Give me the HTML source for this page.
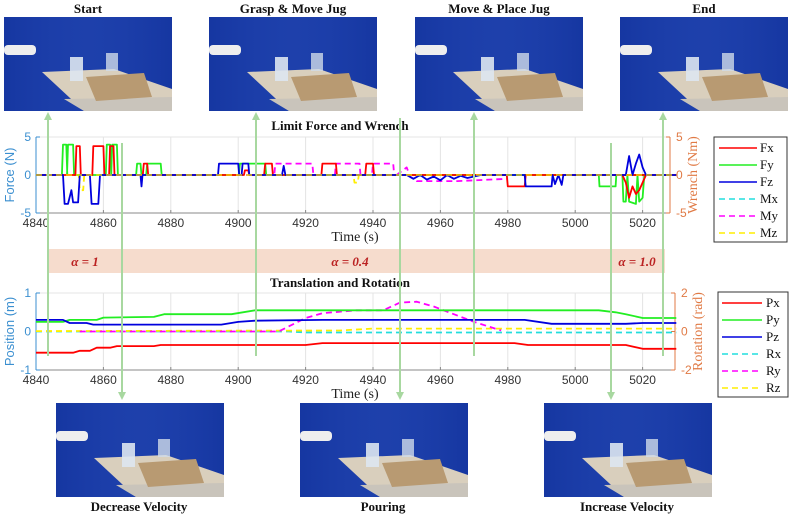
<!DOCTYPE html>
<html><head><meta charset="utf-8"><style>
html,body{margin:0;padding:0;background:#fff;}
svg{display:block;}
.t{font-family:"Liberation Serif",serif;font-weight:bold;font-size:13px;fill:#111;}
.tk{font-family:"Liberation Sans",sans-serif;font-size:12px;fill:#333;}
.lg{font-family:"Liberation Serif",serif;font-size:13px;fill:#111;}
.al{font-family:"Liberation Serif",serif;font-weight:bold;font-style:italic;font-size:13px;fill:#b22;}
</style></head><body>
<svg id="s" width="792" height="517" viewBox="0 0 792 517" xmlns="http://www.w3.org/2000/svg">
<defs>
<g id="photo">
<rect x="0" y="0" width="168" height="94" fill="#1c3ea8"/>
<rect x="0" y="0" width="168" height="94" fill="url(#pg)"/>
<polygon points="38,55 110,52 168,72 168,94 80,94" fill="#d9cfbd"/>
<polygon points="80,94 168,94 168,80 60,82" fill="#c9c4bb"/>
<polygon points="82,60 140,56 148,80 92,84" fill="#b89a72"/>
<rect x="66" y="40" width="13" height="24" fill="#dde6f0" opacity="0.9"/>
<rect x="102" y="36" width="12" height="18" fill="#cfdbe8" opacity="0.8"/>
<rect x="0" y="28" width="32" height="10" rx="4" fill="#eee"/>
</g>
<linearGradient id="pg" x1="0" x2="1"><stop offset="0" stop-color="#0f2f9a" stop-opacity="0.5"/><stop offset="0.5" stop-color="#2448b8" stop-opacity="0.2"/><stop offset="1" stop-color="#0f2f9a" stop-opacity="0.5"/></linearGradient>
</defs>

<text class="t" x="88" y="13" text-anchor="middle">Start</text>
<text class="t" x="293" y="13" text-anchor="middle">Grasp &amp; Move Jug</text>
<text class="t" x="499" y="13" text-anchor="middle">Move &amp; Place Jug</text>
<text class="t" x="704" y="13" text-anchor="middle">End</text>
<use href="#photo" x="4" y="17"/>
<use href="#photo" x="209" y="17"/>
<use href="#photo" x="415" y="17"/>
<use href="#photo" x="620" y="17"/>
<use href="#photo" x="56" y="403"/>
<use href="#photo" x="300" y="403"/>
<use href="#photo" x="544" y="403"/>
<text class="t" x="139" y="511" text-anchor="middle">Decrease Velocity</text>
<text class="t" x="383" y="511" text-anchor="middle">Pouring</text>
<text class="t" x="627" y="511" text-anchor="middle">Increase Velocity</text>

<rect x="48" y="249" width="617" height="24" fill="#f6dccd"/>
<g stroke="#b5452f" stroke-width="1.5">
<line x1="48" y1="236" x2="48" y2="288"/><line x1="122" y1="236" x2="122" y2="288"/>
<line x1="611" y1="236" x2="611" y2="288"/><line x1="663" y1="236" x2="663" y2="288"/>
</g>
<text class="al" x="85" y="266" text-anchor="middle">α = 1</text>
<text class="al" x="350" y="266" text-anchor="middle">α = 0.4</text>
<text class="al" x="637" y="266" text-anchor="middle">α = 1.0</text>

<text class="t" x="340" y="130" text-anchor="middle">Limit Force and Wrench</text>
<text class="t" x="340" y="287" text-anchor="middle">Translation and Rotation</text>

<g id="plots"></g>

<g stroke="#a8d8a0" stroke-width="2" fill="none">
<line x1="48" y1="118" x2="48" y2="356"/><line x1="256" y1="118" x2="256" y2="356"/>
<line x1="474" y1="118" x2="474" y2="356"/><line x1="663" y1="118" x2="663" y2="356"/>
<line x1="122" y1="143" x2="122" y2="394"/><line x1="400" y1="118" x2="400" y2="394"/>
<line x1="611" y1="143" x2="611" y2="394"/>
</g>
<g fill="#a8d8a0">
<polygon points="48,112 44,120 52,120"/><polygon points="256,112 252,120 260,120"/>
<polygon points="474,112 470,120 478,120"/><polygon points="663,112 659,120 667,120"/>
<polygon points="122,400 118,392 126,392"/><polygon points="400,400 396,392 404,392"/>
<polygon points="611,400 607,392 615,392"/>
</g>

<rect x="714" y="137" width="73" height="105" fill="#fff" stroke="#333"/>
<rect x="718" y="292" width="70" height="105" fill="#fff" stroke="#333"/>
<g id="leg"></g>
</svg>
<script>
var NS="http://www.w3.org/2000/svg";
function el(p,t,a,txt){var e=document.createElementNS(NS,t);for(var k in a)e.setAttribute(k,a[k]);if(txt!=null)e.textContent=txt;p.appendChild(e);return e;}
var P=document.getElementById('plots'),L=document.getElementById('leg');
function X(t){return 36+(t-4840)*3.37;}
var C={r:'#ff0000',g:'#22ee22',b:'#0000dd',c:'#22dddd',m:'#ff00ff',y:'#ffee00'};
function axes(y0,y1,ylab,yt,rlab,rt,xr){
 for(var t=4860;t<=5020;t+=20)el(P,'line',{x1:X(t),x2:X(t),y1:y0,y2:y1,stroke:'#e4e4e4'});
 el(P,'line',{x1:36,x2:xr,y1:y0,y2:y0,stroke:'#e4e4e4'});
 el(P,'line',{x1:36,x2:xr,y1:y1,y2:y1,stroke:'#888'});
 for(var t=4840;t<=5020;t+=20){el(P,'line',{x1:X(t),x2:X(t),y1:y1,y2:y1-3,stroke:'#888'});el(P,'text',{x:X(t),y:y1+14,'text-anchor':'middle','class':'tk'},String(t));}
 el(P,'line',{x1:36,x2:36,y1:y0,y2:y1,stroke:'#3b8fd0'});
 el(P,'line',{x1:xr,x2:xr,y1:y0,y2:y1,stroke:'#e07a45'});
 var ym=(y0+y1)/2;
 [[y0,yt[0]],[ym,yt[1]],[y1,yt[2]]].forEach(function(a){el(P,'line',{x1:36,x2:40,y1:a[0],y2:a[0],stroke:'#3b8fd0'});el(P,'text',{x:31,y:a[0]+4,'text-anchor':'end','class':'tk',style:'fill:#3b8fd0'},a[1]);});
 [[y0,rt[0]],[ym,rt[1]],[y1,rt[2]]].forEach(function(a){el(P,'line',{x1:xr,x2:xr-4,y1:a[0],y2:a[0],stroke:'#e07a45'});el(P,'text',{x:xr+6,y:a[0]+4,'class':'tk',style:'fill:#e07a45'},a[1]);});
 el(P,'text',{x:14,y:ym,'text-anchor':'middle',transform:'rotate(-90 14 '+ym+')',style:'font-family:Liberation Sans,sans-serif;font-size:13px;fill:#3b8fd0'},ylab);
 el(P,'text',{x:xr+27,y:ym,'text-anchor':'middle',transform:'rotate(-90 '+(xr+27)+' '+ym+')',style:'font-family:Liberation Serif,serif;font-size:14px;fill:#e07a45'},rlab);
 el(P,'text',{x:355,y:y1+28,'text-anchor':'middle',style:'font-family:Liberation Serif,serif;font-size:14px;fill:#222'},'Time (s)');
}
axes(137,213,'Force (N)',['5','0','-5'],'Wrench (Nm)',['5','0','-5'],670);
axes(293,370,'Position (m)',['1','0','-1'],'Rotation (rad)',['2','0','-2'],675);
function FY(v){return 175-v*7.6;}
function pulses(list,end){var pts=[[4840,0]];list.forEach(function(p){pts.push([p[0]-0.3,0],[p[0],p[2]],[p[1],p[2]],[p[1]+0.3,0]);});pts.push([end||5030,0]);return pts;}
function line(pts,col,fy,dash,w){el(P,'polyline',{points:pts.map(function(p){return X(p[0]).toFixed(1)+','+fy(p[1]).toFixed(1);}).join(' '),fill:'none',stroke:col,'stroke-width':w||1.8,'stroke-dasharray':dash?'6,4':'none','stroke-linejoin':'round'});}
line([[4840,0],[5030,0]],C.c,FY,1);
line(pulses([[4911,4922,1.5],[4929,4936,1.5],[4940,4946,1.5]]),C.m,FY,1);
line([[4947,0],[4950,1],[4951,-0.2],[4953,-0.8],[4965,-0.8],[4980,-0.5]],C.m,FY,1);
line(pulses([[4853,4854,-2],[4934.5,4935.5,-1]]),C.y,FY,1);
line(pulses([[4848,4849,4],[4849.5,4851,4],[4861,4862,4],[4862.6,4864,4],[4870,4871,1.5],[4873,4877,1.5],[4900.5,4908,1.5]]),C.g,FY);
line([[5005,0],[5007,0],[5007.2,-1.5],[5012,-1.5],[5012.2,0],[5014,0],[5014.3,-3.5],[5015,-3.5],[5015.5,0],[5016,-3.5],[5018,-3.8],[5018.5,0],[5019,-3.5],[5020,-3],[5020.5,0]],C.g,FY);
line(pulses([[4852,4853,3.8],[4857,4860,3.8],[4862,4863,3.8],[4872,4873,1.5],[4902,4903,0.6],[4908,4910,1.5],[4925,4929,1.5],[4938,4940,1.5],[4980,4985,-1.5]]),C.r,FY);
line([[5014,0],[5015,-1],[5016,-3],[5017,-1.5],[5018,-2.5],[5019,-2],[5020,-1],[5021,0]],C.r,FY);
line([[4840,0],[4848,0],[4848.5,-3.8],[4849.5,-3.8],[4850.5,-2],[4851,-3.6],[4852.5,-3.6],[4853,0],[4856,0],[4856.5,-3.8],[4858.5,-3.8],[4859,0],[4871,0],[4871.3,-1.5],[4871.6,0],[4894,0],[4894.3,1.5],[4900,1.5],[4900.3,0],[4901,0],[4901.3,1.5],[4903,1.5],[4903.3,0],[4913,0],[4913.5,1.2],[4914,0],[4950,0],[4952,-0.5],[4954,0],[4956,-0.6],[4958,-0.2],[4960,-0.7],[4962,0],[4964,-0.5],[4966,-0.1],[4968,-0.4],[4972,0],[4985,0],[4985.3,-1.5],[4993,-1.5],[4993.3,0],[4994,-1.2],[4995,0],[4996,-1.3],[4996.5,0],[5015,0],[5016,2.5],[5017,0],[5018,1.5],[5019,2.7],[5020,1],[5021,0],[5030,0]],C.b,FY);
line([[4840,0],[5030,0]],C.y,FY,1,1.3);
function PY(v){return 331.5-v*38.5;} function RY(v){return 331.5-v*19.25;}
line([[4840,0],[4915,0],[4920,-0.05],[5030,-0.05]],C.c,RY,1);
line([[4840,0.02],[4930,0.05],[4940,0.15],[5030,0.15]],C.y,RY,1);
line([[4853,0],[4912,0],[4920,0.7],[4925,0.95],[4935,1.1],[4943,1.1],[4948,1.5],[4953,1.55],[4958,1.3],[4970,0.5],[4978,0.05]],C.m,RY,1);
line([[4840,-0.55],[4851,-0.55],[4853,-0.5],[4856,-0.5],[4858,-0.42],[4862,-0.42],[4864,-0.38],[4875,-0.38],[4877,-0.35],[4920,-0.35],[4925,-0.3],[4982,-0.3],[4986,-0.35],[5015,-0.35],[5020,-0.45],[5030,-0.45]],C.r,PY);
line([[4840,0.25],[4848,0.25],[4850,0.3],[4858,0.3],[4860,0.36],[4875,0.38],[4878,0.45],[4898,0.45],[4905,0.55],[5007,0.55],[5012,0.5],[5015,0.45],[5020,0.35],[5030,0.35]],C.g,PY);
line([[4840,0.3],[4848,0.3],[4850,0.22],[4855,0.22],[4857,0.18],[4895,0.18],[4900,0.25],[4905,0.28],[4925,0.3],[4985,0.3],[4993,0.2],[5015,0.2],[5020,0.22],[5030,0.22]],C.b,PY);
function leg(x0,x1,tx,ys,names,cols,dash){for(var i=0;i<6;i++){el(L,'line',{x1:x0,x2:x1,y1:ys[i],y2:ys[i],stroke:cols[i],'stroke-width':1.6,'stroke-dasharray':dash[i]?'6,4':'none'});el(L,'text',{x:tx,y:ys[i]+4,'class':'lg'},names[i]);}}
var cols=[C.r,C.g,C.b,C.c,C.m,C.y],dsh=[0,0,0,1,1,1];
leg(719,757,760,[148,165,182,199,216,233],['Fx','Fy','Fz','Mx','My','Mz'],cols,dsh);
leg(722,762,766,[303,320,337,354,371,388],['Px','Py','Pz','Rx','Ry','Rz'],cols,dsh);
</script>
</body></html>
